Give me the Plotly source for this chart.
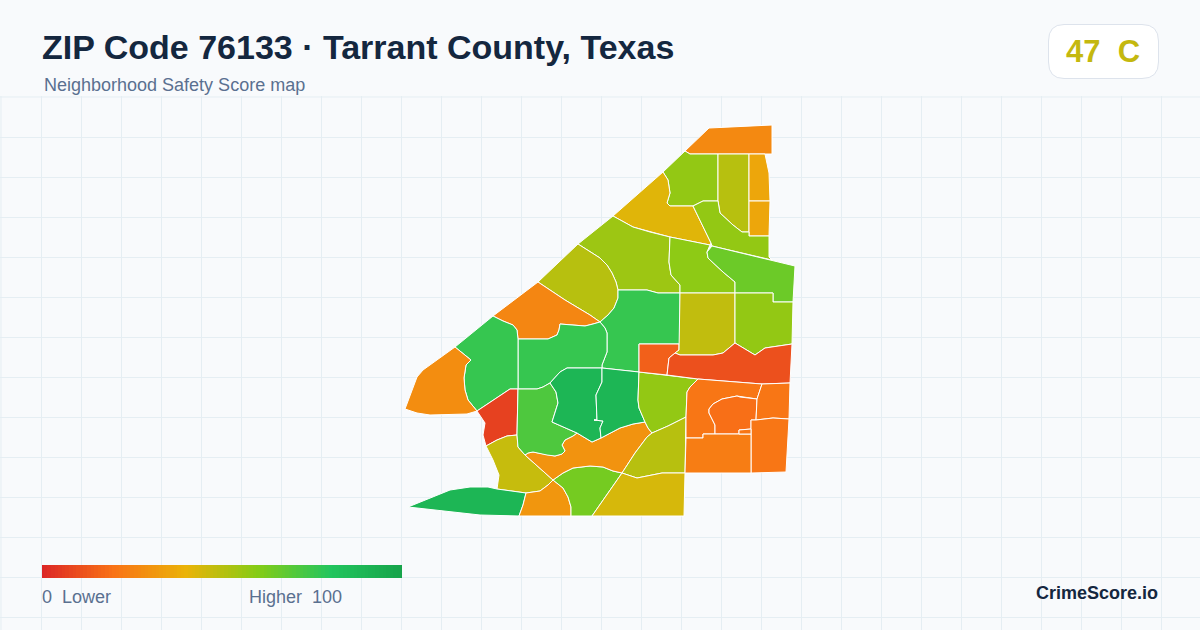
import plotly.graph_objects as go
from plotly.colors import sample_colorscale

# ---- data ----
TITLE = "ZIP Code 76133 · Tarrant County, Texas"
SUBTITLE = "Neighborhood Safety Score map"
BADGE = "47  C"
BRAND = "CrimeScore.io"
LEGEND_LOW = "0  Lower"
LEGEND_HIGH = "Higher  100"

SCALE_STOPS = [0, 20, 40, 60, 80, 100]
SCALE_COLORS = ["#dc2626", "#f97316", "#eab308", "#84cc16", "#22c55e", "#16a34a"]
LEGEND_VALUES = list(range(0, 101))

# Block-group outlines in map units, with the score read from each fill
T01 = [(709,128),(772,125),(772,154),(690,154),(685,151)]
T02 = [(685,151),(690,154),(718,154),(718,201),(703,201),(693,206),(670,206),(667,203),(670,193),(668,180),(663,172)]
T03 = [(718,154),(749,154),(749,232),(742,232),(733,225),(720,213),(718,201)]
T04 = [(749,154),(765,154),(769,173),(770,201),(749,201)]
T05 = [(749,201),(770,201),(769,236),(749,236)]
T06 = [(663,172),(668,180),(670,193),(667,203),(670,206),(693,206),(711,243),(710,245),(670,237),(650,232),(633,227),(613,216)]
T07 = [(693,206),(703,201),(718,201),(720,213),(733,225),(742,232),(749,232),(749,236),(769,236),(769,257),(772,260),(712,246),(711,243)]
T08 = [(613,216),(633,227),(650,232),(670,237),(669,262),(671,275),(680,285),(680,293),(658,293),(647,290),(618,290),(616,282),(612,273),(607,265),(600,258),(592,253),(578,244)]
T09 = [(670,237),(710,245),(707,252),(708,258),(723,272),(735,282),(735,293),(680,293),(680,285),(671,275),(669,262)]
T10 = [(712,246),(772,260),(795,266),(793,302),(773,302),(773,293),(735,293),(735,282),(723,272),(708,258),(707,252)]
T11 = [(578,244),(592,253),(600,258),(607,265),(612,273),(616,282),(618,290),(618,298),(614,308),(608,315),(600,322),(590,315),(565,300),(538,282)]
T12 = [(493,316),(503,321),(513,325),(517,330),(518,339),(548,339),(557,335),(559,330),(560,324),(573,325),(585,326),(593,324),(600,322),(590,315),(565,300),(538,282)]
T13 = [(618,290),(647,290),(658,293),(680,293),(680,344),(639,344),(639,372),(602,368),(602,365),(607,352),(607,333),(605,328),(600,322),(608,315),(614,308),(618,298)]
T14 = [(518,339),(548,339),(557,335),(559,330),(560,324),(573,325),(585,326),(593,324),(600,322),(605,328),(607,333),(607,352),(602,365),(602,368),(567,368),(560,372),(550,383),(543,387),(537,389),(518,389)]
T15 = [(493,316),(503,321),(513,325),(517,330),(518,339),(518,389),(510,389),(477,411),(468,400),(465,390),(464,378),(466,365),(471,360),(455,347)]
T16 = [(455,347),(471,360),(466,365),(464,378),(465,390),(468,400),(477,411),(467,414),(430,415),(417,413),(405,409),(413,388),(417,377),(423,370)]
T17 = [(477,411),(510,389),(518,389),(517,435),(507,436),(497,440),(486,446),(483,435),(485,423)]
T18 = [(486,446),(497,440),(507,436),(517,435),(518,447),(525,455),(553,480),(548,485),(540,491),(526,493),(497,489),(499,475),(493,460)]
T19 = [(408,507),(450,490),(470,487),(488,487),(497,489),(526,493),(523,505),(519,516),(480,515)]
T20 = [(526,493),(540,491),(548,485),(553,480),(563,488),(568,497),(571,507),(571,516),(519,516),(523,505)]
T21 = [(553,480),(563,473),(573,468),(590,466),(603,467),(613,471),(622,473),(592,516),(571,516),(571,507),(568,497),(563,488)]
T22 = [(525,455),(528,453),(533,452),(547,455),(555,456),(562,454),(565,451),(562,445),(565,440),(573,436),(577,433),(592,442),(601,438),(620,428),(633,424),(645,422),(648,428),(652,433),(647,437),(635,453),(622,473),(613,471),(603,467),(590,466),(573,468),(563,473),(553,480)]
T23 = [(518,389),(537,389),(543,387),(550,383),(556,392),(558,403),(552,422),(577,433),(573,436),(565,440),(562,445),(565,451),(562,454),(555,456),(547,455),(533,452),(528,453),(525,455),(518,447),(517,435)]
T24 = [(550,383),(560,372),(567,368),(602,368),(602,382),(596,395),(597,420),(594,420),(603,421),(600,428),(601,438),(592,442),(577,433),(552,422),(558,403),(556,392)]
T25 = [(602,368),(639,372),(638,400),(639,408),(645,422),(633,424),(620,428),(601,438),(600,428),(603,421),(594,420),(597,420),(596,395),(602,382)]
T26 = [(639,372),(698,379),(690,387),(687,392),(686,417),(668,426),(652,433),(648,428),(645,422),(639,408),(638,400)]
T27 = [(686,417),(685,473),(662,473),(652,475),(637,478),(622,473),(635,453),(647,437),(652,433),(668,426)]
T28 = [(622,473),(637,478),(652,475),(662,473),(685,473),(684,516),(592,516)]
T29 = [(639,344),(679,344),(679,350),(675,353),(669,358),(667,375),(639,372)]
T30 = [(680,293),(735,293),(735,343),(723,353),(713,355),(680,355),(675,353),(679,350)]
T31 = [(735,293),(773,293),(773,302),(793,302),(792,344),(765,348),(755,355),(735,343)]
T32 = [(669,358),(675,353),(680,355),(713,355),(723,353),(735,343),(755,355),(765,348),(792,344),(790,383),(762,384),(698,379),(667,375)]
T33 = [(698,379),(762,384),(757,399),(740,397),(737,396),(722,399),(713,404),(709,409),(709,413),(715,425),(715,434),(703,434),(703,438),(686,438),(686,417),(687,392),(690,387)]
T34 = [(722,399),(737,396),(740,397),(757,399),(756,420),(751,420),(751,429),(739,430),(739,434),(715,434),(715,425),(709,413),(709,409),(713,404)]
T35 = [(762,384),(790,383),(789,419),(773,418),(756,420),(757,399)]
T36 = [(751,420),(756,420),(773,418),(789,419),(786,472),(751,473)]
T37 = [(686,438),(703,438),(703,434),(751,434),(751,473),(685,473)]
T38 = [(739,430),(751,429),(751,434),(739,434)]

TRACTS = [T01,T02,T03,T04,T05,T06,T07,T08,T09,T10,T11,T12,T13,T14,T15,T16,T17,T18,T19,
          T20,T21,T22,T23,T24,T25,T26,T27,T28,T29,T30,T31,T32,T33,T34,T35,T36,T37,T38]
SCORES = [27,57,50,36,36,42,57,55,58,65,50,26,76,76,76,28,7,47,89,
          31,63,30,71,89,89,57,50,44,15,48,57,11,21,19,21,21,23,21]

INK = "#14273f"
MUTED = "#5a7090"
BG = "#f8fafc"
GRID = "#e5eef3"
FONT = "Liberation Sans"

colorscale = [[s / 100, c] for s, c in zip(SCALE_STOPS, SCALE_COLORS)]

fig = go.Figure()
for i, (poly, score) in enumerate(zip(TRACTS, SCORES)):
    xs = [p[0] for p in poly] + [poly[0][0]]
    ys = [p[1] for p in poly] + [poly[0][1]]
    fig.add_trace(go.Scatter(
        x=xs, y=ys, mode="lines", fill="toself",
        fillcolor=sample_colorscale(colorscale, score / 100)[0],
        line=dict(color="#ffffff", width=1),
        name=f"Area {i + 1}", text=f"Score {score}", hoverinfo="text", showlegend=False,
    ))

fig.add_trace(go.Heatmap(
    z=[LEGEND_VALUES], x=LEGEND_VALUES, zmin=0, zmax=100, colorscale=colorscale,
    showscale=False, xaxis="x2", yaxis="y2", hoverinfo="skip",
))

W, H = 1200, 630
TOP = 96

def ann(text, x, y, size, color, bold=False, anchor="left"):
    return dict(
        text=f"<b>{text}</b>" if bold else text, x=x / W, y=1 - y / H,
        xref="paper", yref="paper", xanchor=anchor, yanchor="middle", showarrow=False,
        font=dict(family=FONT, size=size, color=color), borderpad=0, borderwidth=0,
    )

fig.update_layout(
    width=W, height=H, autosize=False,
    margin=dict(l=0, r=0, t=0, b=0, pad=0),
    paper_bgcolor=BG, plot_bgcolor=BG, showlegend=False,
    font=dict(family=FONT),
    xaxis=dict(range=[0, W], domain=[0, 1], tick0=1, dtick=40, showgrid=True, gridcolor=GRID, gridwidth=1,
               zeroline=False, showticklabels=False, ticks="", showline=False),
    yaxis=dict(range=[H, TOP], domain=[0, 1 - TOP / H], tick0=97, dtick=40, showgrid=True, gridcolor=GRID, gridwidth=1,
               zeroline=False, showticklabels=False, ticks="", showline=False),
    xaxis2=dict(range=[0, 100], domain=[42 / W, 402 / W], anchor="y2", visible=False),
    yaxis2=dict(range=[-0.5, 0.5], domain=[1 - 578 / H, 1 - 565 / H], anchor="x2", visible=False),
    shapes=[
        dict(type="line", xref="x", yref="y", x0=1, x1=1, y0=TOP, y1=H, layer="below", line=dict(color=GRID, width=1)),
        dict(type="line", xref="x", yref="y", x0=0, x1=W, y0=97, y1=97, layer="below", line=dict(color=GRID, width=1)),
        dict(
            type="path", xref="paper", yref="paper", layer="below",
            path=("M {0} {1} L {2} {1} Q {3} {1} {3} {4} L {3} {5} Q {3} {6} {2} {6} "
                  "L {0} {6} Q {7} {6} {7} {5} L {7} {4} Q {7} {1} {0} {1} Z").format(
                1064 / W, 1 - 24.5 / H, 1142 / W, 1158.5 / W, 1 - 41 / H, 1 - 62 / H, 1 - 78.5 / H, 1048.5 / W),
            fillcolor="#ffffff", line=dict(color="#dde3ec", width=1),
        ),
    ],
    annotations=[
        ann(TITLE, 42, 47, 34, INK, bold=True),
        ann(SUBTITLE, 44, 85, 18, MUTED),
        ann(BADGE, 1103, 51, 31, "#c4b80f", bold=True, anchor="center"),
        ann(LEGEND_LOW, 42, 597, 18, MUTED),
        ann(LEGEND_HIGH, 249, 597, 18, MUTED),
        ann(BRAND, 1158, 593, 18, INK, bold=True, anchor="right"),
    ],
)

fig.write_html(
    "out.html",
    config={"displayModeBar": False},
    post_script=f'document.body.style.margin="0";document.body.style.background="{BG}";'
                'document.documentElement.style.overflow="hidden";',
)
